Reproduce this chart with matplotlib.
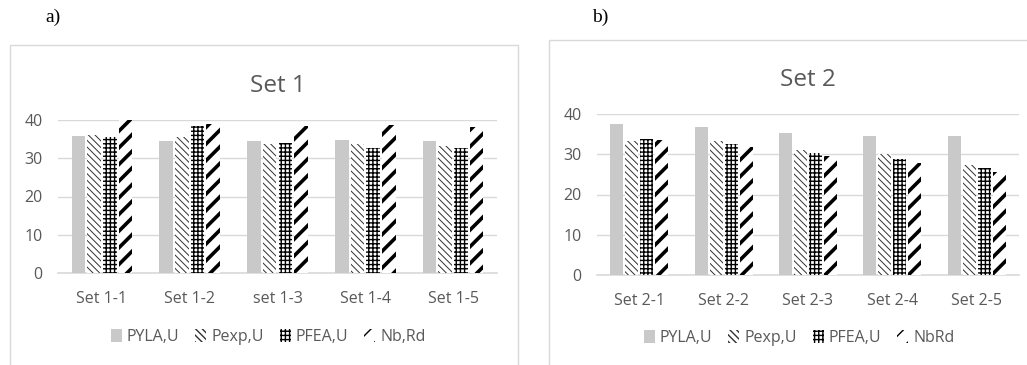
import matplotlib
matplotlib.use("Agg")
import matplotlib.pyplot as plt
from matplotlib.patches import Rectangle
import numpy as np

# -------- data --------
series = ["PYLA,U", "Pexp,U", "PFEA,U", "Nb,Rd"]
series2 = ["PYLA,U", "Pexp,U", "PFEA,U", "NbRd"]

cats1 = ["Set 1-1", "Set 1-2", "set 1-3", "Set 1-4", "Set 1-5"]
pyla1 = [35.8, 34.5, 34.5, 34.9, 34.4]
pexp1 = [36.1, 35.6, 33.6, 33.6, 33.3]
pfea1 = [35.6, 38.4, 33.9, 32.6, 32.6]
nb1 = [40.0, 39.0, 38.5, 38.7, 38.3]

cats2 = ["Set 2-1", "Set 2-2", "Set 2-3", "Set 2-4", "Set 2-5"]
pyla2 = [37.5, 36.7, 35.3, 34.6, 34.6]
pexp2 = [33.4, 33.4, 31.1, 30.1, 27.4]
pfea2 = [33.8, 32.5, 30.3, 28.8, 26.6]
nb2 = [33.6, 31.7, 29.5, 27.8, 25.7]

yticks = [0, 10, 20, 30, 40]

# -------- style --------
plt.rcParams['font.family'] = ['Open Sans', 'DejaVu Sans']
GRAY_TXT = "#595959"
GRID = "#d9d9d9"
W, H = 1027, 365

styles = [
    dict(facecolor="#c9c9c9", edge="black", hatch=None, hlw=0.0),
    dict(facecolor="white", edge="#303030", hatch="\\\\\\\\\\", hlw=0.7),
    dict(facecolor="white", edge="black", hatch="++++", hlw=1.0),
    dict(facecolor="white", edge="black", hatch="//", hlw=2.6),
]


def draw_panel(ax, cats, data, labels, title, legend_xy):
    x = np.arange(len(cats))
    step, width = 0.178, 0.155
    for i, (vals, st) in enumerate(zip(data, styles)):
        bars = ax.bar(x + (i - 1.5) * step, vals, width, color=st["facecolor"],
                      edgecolor=st["edge"], linewidth=0, hatch=st["hatch"],
                      label=labels[i], zorder=3)
        for b in bars:
            if hasattr(b, "set_hatch_linewidth") and st["hatch"]:
                b.set_hatch_linewidth(st["hlw"])
    ax.set_xlim(-0.5, len(cats) - 0.5)
    ax.set_ylim(0, 40)
    ax.set_yticks(yticks)
    ax.set_xticks(x)
    ax.set_xticklabels(cats)
    ax.yaxis.grid(True, color=GRID, linewidth=1, zorder=0)
    for s in ["top", "right", "left"]:
        ax.spines[s].set_visible(False)
    ax.spines["bottom"].set_color(GRID)
    ax.spines["bottom"].set_linewidth(1.2)
    ax.tick_params(length=0, labelsize=11.5, colors=GRAY_TXT, pad=13)
    ax.tick_params(axis="y", pad=11)
    ax.set_title(title, fontsize=17.5, color=GRAY_TXT, pad=20)
    ax.legend(loc="center", bbox_to_anchor=legend_xy, bbox_transform=ax.figure.transFigure,
              ncol=4, frameon=False, fontsize=11.5, labelcolor=GRAY_TXT,
              handlelength=0.7, handleheight=0.8, handletextpad=0.3, columnspacing=1.0)


fig = plt.figure(figsize=(W / 100, H / 100), dpi=100)

# chart frames
fig.patches.append(Rectangle((10 / W, -0.05), 508 / W, (H - 45) / H + 0.05,
                             transform=fig.transFigure, fill=False, edgecolor=GRID, linewidth=1))
fig.patches.append(Rectangle((549 / W, -0.05), 0.6, (H - 40) / H + 0.05,
                             transform=fig.transFigure, fill=False, edgecolor=GRID, linewidth=1))

ax1 = fig.add_axes([58 / W, (H - 273) / H, 439 / W, 153 / H])
ax2 = fig.add_axes([597 / W, (H - 275) / H, 422 / W, 161 / H])

draw_panel(ax1, cats1, [pyla1, pexp1, pfea1, nb1], series, "Set 1", (268 / W, (H - 337) / H))
draw_panel(ax2, cats2, [pyla2, pexp2, pfea2, nb2], series2, "Set 2", (799 / W, (H - 338) / H))

fig.text(53 / W, (H - 17) / H, "a)", family="Liberation Serif", fontsize=14, ha="center", va="center")
fig.text(600 / W, (H - 17) / H, "b)", family="Liberation Serif", fontsize=14, ha="center", va="center")

fig.savefig("out.png", dpi=100)
